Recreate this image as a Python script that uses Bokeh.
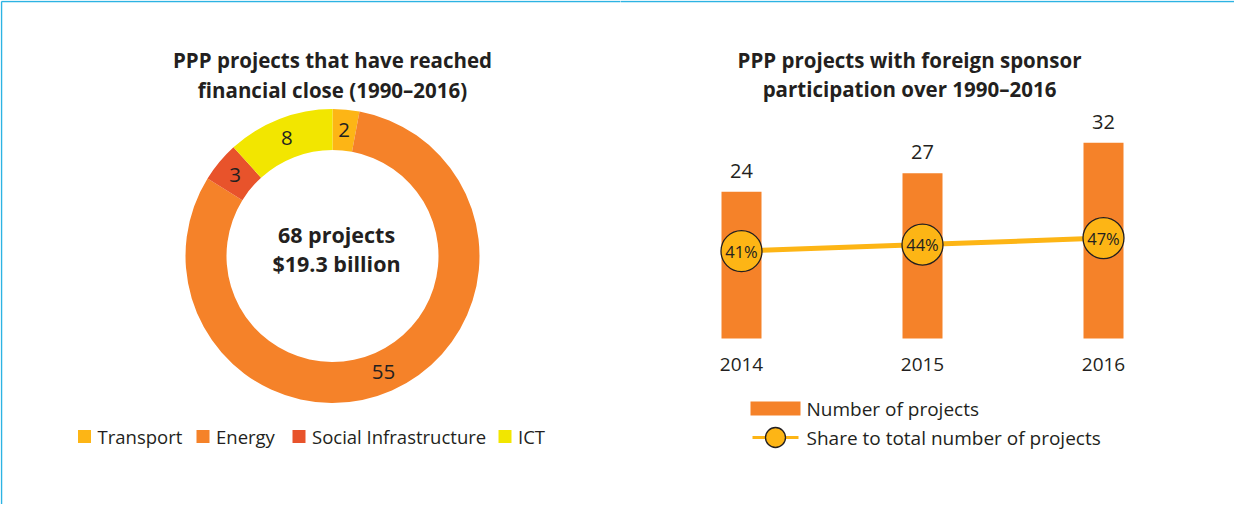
import numpy as np
from bokeh.plotting import figure
from bokeh.models import Range1d
from bokeh.layouts import row
from bokeh.embed import file_html
from bokeh.resources import INLINE
from bokeh.core.properties import value

# ---------------- data ----------------
sectors = ["Transport", "Energy", "Social Infrastructure", "ICT"]
sector_projects = [2, 55, 3, 8]
sector_colors = ["#FDB515", "#F58229", "#E8532B", "#F2E600"]
center_lines = ["68 projects", "$19.3 billion"]
left_title = ["PPP projects that have reached", "financial close (1990\u20132016)"]

years = [2014, 2015, 2016]
year_labels = ["2014", "2015", "2016"]
foreign_projects = [24, 27, 32]
foreign_share = [41, 44, 47]
share_labels = ["41%", "44%", "47%"]
right_title = ["PPP projects with foreign sponsor", "participation over 1990\u20132016"]
right_legend = ["Number of projects", "Share to total number of projects"]

# ---------------- style ----------------
FONT = value("Open Sans")
TXT = "#231F20"
BORDER = "#2DB3E3"
BAR = "#F58229"
LINE = "#FDB515"


def base_fig(w, h, xr, yr):
    f = figure(width=w, height=h, x_range=xr, y_range=yr, output_backend="svg",
               toolbar_location=None, min_border=0, x_axis_location=None,
               y_axis_location=None, background_fill_color="white",
               border_fill_color="white")
    f.xgrid.visible = False
    f.ygrid.visible = False
    f.outline_line_color = None
    return f


# ---------------- left: donut ----------------
LW, LH = 620, 504
L = base_fig(LW, LH, Range1d(0, LW), Range1d(0, LH))
CX, CY, R_IN, R_OUT = 332, 248.5, 106, 147
R_MID = (R_IN + R_OUT) / 2

vals = np.array(sector_projects, dtype=float)
cum = np.concatenate([[0.0], np.cumsum(vals)])
tot = cum[-1]
start = np.pi / 2 - 2 * np.pi * cum[:-1] / tot
end = np.pi / 2 - 2 * np.pi * cum[1:] / tot
L.annular_wedge(x=[CX] * len(vals), y=[CY] * len(vals), inner_radius=R_IN,
                outer_radius=R_OUT, start_angle=list(start), end_angle=list(end),
                direction="clock", fill_color=sector_colors, line_color=None)
mid = (start + end) / 2
L.text(x=list(CX + R_MID * np.cos(mid)), y=list(CY + R_MID * np.sin(mid)),
       text=[str(v) for v in sector_projects], text_font=FONT, text_font_size="20.5px",
       text_align="center", text_baseline="middle", text_color=TXT)

L.text(x=[336, 336], y=[270, 241], text=center_lines, text_font=FONT,
       text_font_size="21.5px", text_font_style="bold", text_align="center",
       text_baseline="middle", text_color=TXT)
L.text(x=[332, 332], y=[445, 415], text=left_title, text_font=FONT,
       text_font_size="20.5px", text_font_style="bold", text_align="center",
       text_baseline="middle", text_color=TXT)

sq_x = [84, 202.5, 298.5, 504.5]
L.rect(x=sq_x, y=[68] * 4, width=13, height=13, fill_color=sector_colors, line_color=None)
L.text(x=[x + 13 for x in sq_x], y=[68] * 4, text=sectors, text_font=FONT,
       text_font_size="18.5px", text_align="left", text_baseline="middle", text_color=TXT)

# border (top and left)
L.line(x=[1, 1], y=[-10, 503], line_color=BORDER, line_width=1.5)
L.line(x=[1, LW + 10], y=[503, 503], line_color=BORDER, line_width=1.5)

# ---------------- right: bars + line ----------------
RW, RH = 614, 504
PX_PER_YEAR = 181.0
x0 = years[0] - 121 / PX_PER_YEAR
R = base_fig(RW, RH, Range1d(x0, x0 + RW / PX_PER_YEAR), Range1d(-27.12, 55.23))
R.extra_y_ranges = {"share": Range1d(-75.8, 156.5), "py": Range1d(0, RH)}
R.extra_x_ranges = {"px": Range1d(0, RW)}

R.vbar(x=years, top=foreign_projects, bottom=0, width=40 / PX_PER_YEAR,
       fill_color=BAR, line_color=None)
R.text(x=years, y=foreign_projects, text=[str(v) for v in foreign_projects],
       y_offset=-21, text_font=FONT, text_font_size="20px", text_align="center",
       text_baseline="middle", text_color=TXT)
R.text(x=years, y=[0] * len(years), text=year_labels, y_offset=26, text_font=FONT,
       text_font_size="19px", text_align="center", text_baseline="middle",
       text_color=TXT)

R.line(x=years, y=foreign_share, y_range_name="share", line_color=LINE, line_width=5)
R.scatter(x=years, y=foreign_share, y_range_name="share", size=41,
          fill_color=LINE, line_color=TXT, line_width=1.3)
R.text(x=years, y=foreign_share, y_range_name="share", text=share_labels,
       text_font=FONT, text_font_size="16.5px", text_align="center",
       text_baseline="middle", text_color=TXT)

R.text(x=[289, 289], y=[445, 416], text=right_title, x_range_name="px",
       y_range_name="py", text_font=FONT, text_font_size="20.5px",
       text_font_style="bold", text_align="center", text_baseline="middle",
       text_color=TXT)

# legend
R.rect(x=[155], y=[96], width=50, height=14, x_range_name="px", y_range_name="py",
       fill_color=BAR, line_color=None)
R.line(x=[132, 178], y=[67, 67], x_range_name="px", y_range_name="py",
       line_color=LINE, line_width=3)
R.scatter(x=[155], y=[67], size=20, x_range_name="px", y_range_name="py",
          fill_color=LINE, line_color=TXT, line_width=1.3)
R.text(x=[186, 186], y=[96, 67], text=right_legend, x_range_name="px",
       y_range_name="py", text_font=FONT, text_font_size="19px", text_align="left",
       text_baseline="middle", text_color=TXT)

R.line(x=[-10, RW + 10], y=[503, 503], x_range_name="px", y_range_name="py",
       line_color=BORDER, line_width=1.5)

p = row(L, R, spacing=0)
open("out.html", "w").write(file_html(p, INLINE))
